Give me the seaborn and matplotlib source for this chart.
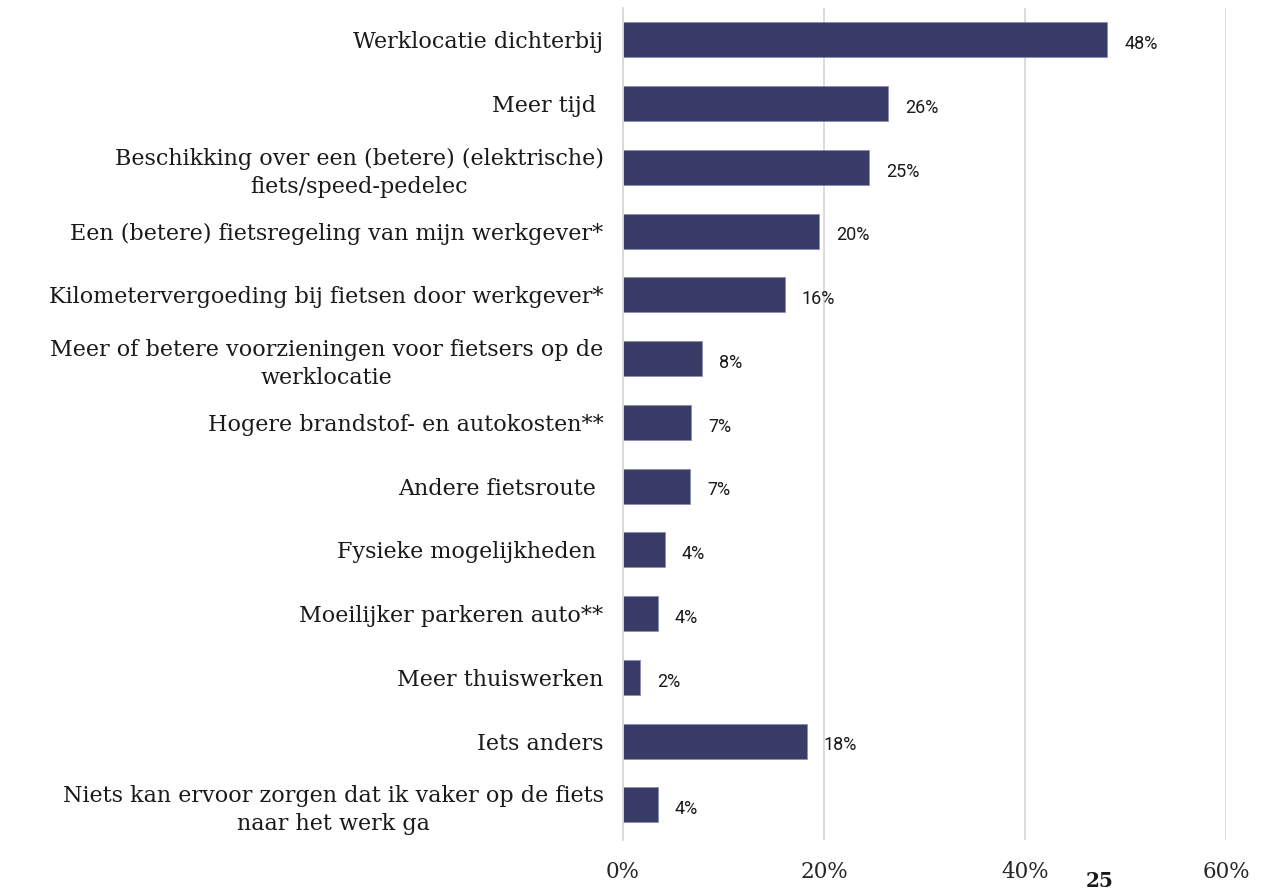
import seaborn as sns
import matplotlib.pyplot as plt

# redenen om vaker met de fiets naar het werk te gaan (aandeel respondenten, %)
categories = [
    "Werklocatie dichterbij",
    "Meer tijd ",
    "Beschikking over een (betere) (elektrische)\nfiets/speed-pedelec",
    "Een (betere) fietsregeling van mijn werkgever*",
    "Kilometervergoeding bij fietsen door werkgever*",
    "Meer of betere voorzieningen voor fietsers op de\nwerklocatie",
    "Hogere brandstof- en autokosten**",
    "Andere fietsroute ",
    "Fysieke mogelijkheden ",
    "Moeilijker parkeren auto**",
    "Meer thuiswerken",
    "Iets anders",
    "Niets kan ervoor zorgen dat ik vaker op de fiets\nnaar het werk ga",
]
values = [48.2, 26.4, 24.5, 19.5, 16.1, 7.9, 6.8, 6.7, 4.2, 3.5, 1.7, 18.3, 3.5]
labels = ["48%", "26%", "25%", "20%", "16%", "8%", "7%", "7%", "4%", "4%", "2%", "18%", "4%"]
xticks = [0, 20, 40, 60]
xticklabels = ["0%", "20%", "40%", "60%"]

sns.set_style("white")
fig = plt.figure(figsize=(12.7, 8.94), dpi=100)
ax = fig.add_axes([0.4906, 0.0604, 0.4748, 0.9306])

sns.barplot(x=values, y=categories, orient="h", color="#383c66", saturation=1,
            width=0.55, edgecolor="#8a8db0", linewidth=0.6, ax=ax)

ax.set_xlim(0, 60)
ax.set_ylim(12.55, -0.5)
ax.set_xticks(xticks)
ax.set_xticklabels(xticklabels, family="DejaVu Serif", fontsize=15.5)
ax.xaxis.grid(True, color="#d9d9d9", linewidth=1.3)
ax.set_axisbelow(True)
for side in ["top", "right", "bottom"]:
    ax.spines[side].set_visible(False)
ax.spines["left"].set_color("#d9d9d9")
ax.spines["left"].set_linewidth(1.3)
ax.tick_params(axis="x", length=0, pad=15)
ax.tick_params(axis="y", length=0, pad=14)
for t in ax.get_yticklabels():
    t.set_family("DejaVu Serif")
    t.set_fontsize(16)
    t.set_multialignment("center")
    t.set_linespacing(1.35)
    t.set_color("#1a1a1a")
ax.set_xlabel("")
ax.set_ylabel("")

texts = ax.bar_label(ax.containers[0], labels=labels, padding=12, fontsize=13,
                     family="Roboto", color="#1a1a1a")
for t in texts:
    t.xyann = (12, -3)

fig.text(0.866, 0.003, "25", family="DejaVu Serif", fontsize=14.5,
         fontweight="bold", ha="center", va="bottom", color="#1a1a1a")

fig.savefig("out.png", dpi=100)
